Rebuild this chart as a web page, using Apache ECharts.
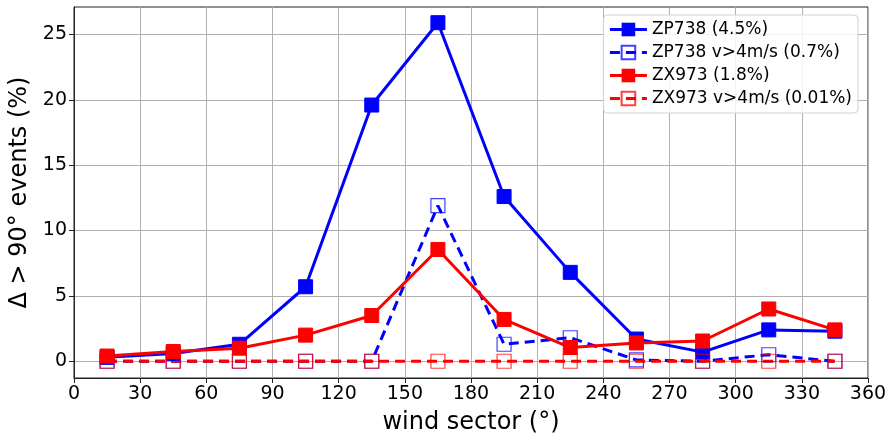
<!DOCTYPE html>
<html><head><meta charset="utf-8">
<script src="https://cdn.jsdelivr.net/npm/echarts@6/dist/echarts.min.js"></script>
<style>html,body{margin:0;padding:0;background:#fff}#c{width:890px;height:436px}</style>
</head><body><div id="c"></div>
<script>
const sectors = [15,45,75,105,135,165,195,225,255,285,315,345];
const zp738 = [0.3,0.6,1.3,5.7,19.6,25.9,12.6,6.8,1.7,0.7,2.4,2.3];
const zp738Fast = [0,0,0,0,0,11.9,1.3,1.8,0.1,0,0.5,0];
const zx973 = [0.4,0.75,1.0,2.0,3.5,8.55,3.2,1.05,1.4,1.55,4.0,2.4];
const zx973Fast = [0,0,0,0,0,0,0,0,0,0,0,0];
const names = ['ZP738 (4.5%)','ZP738 v>4m/s (0.7%)','ZX973 (1.8%)','ZX973 v>4m/s (0.01%)'];
const xTicks = [0,30,60,90,120,150,180,210,240,270,300,330,360];
const yTicks = [0,5,10,15,20,25];

const pair = arr => sectors.map((s,i)=>[s,arr[i]]);
const font = 'DejaVu Sans';
function solid(name, data, color){
  return {name, type:'line', data:pair(data), symbol:'rect', symbolSize:14,
    lineStyle:{color, width:3}, itemStyle:{color, borderColor:color}, emphasis:{disabled:true}};
}
function dashed(name, data, color){
  return {name, type:'line', data:pair(data), symbol:'rect', symbolSize:14,
    lineStyle:{color, width:3, type:[10,6]},
    itemStyle:{color:'rgba(255,255,255,0)', borderColor:color, borderWidth:1.2, opacity:0.75},
    emphasis:{disabled:true}};
}
const chart = echarts.init(document.getElementById('c'));
chart.setOption({
  animation:false,
  grid:{left:74, right:22, top:7, bottom:58, outerBoundsMode:'none', containLabel:false,
    show:true, borderColor:'#222', borderWidth:1, backgroundColor:'transparent'},
  legend:{right:32, top:15, orient:'vertical', itemWidth:37, itemHeight:17, itemGap:6,
    lineStyle:{width:3},
    backgroundColor:'rgba(255,255,255,0.85)', borderColor:'#d0d0d0', borderWidth:1, borderRadius:4,
    padding:[6,6,6,5], textStyle:{fontFamily:font, fontSize:17, color:'#000'}, data:names},
  xAxis:{type:'value', min:0, max:360, interval:30,
    name:'wind sector (°)', nameLocation:'middle', nameGap:33,
    nameTextStyle:{fontFamily:font, fontSize:24, color:'#000'},
    axisLine:{show:true, onZero:false, lineStyle:{color:'#222', width:1}},
    axisTick:{show:true, length:5, lineStyle:{color:'#222'}},
    axisLabel:{fontFamily:font, fontSize:19, color:'#000', margin:7, formatter:v=>xTicks.includes(v)?String(v):''},
    splitLine:{show:true, lineStyle:{color:'#b0b0b0', width:1}}},
  yAxis:{type:'value', min:-1.28, max:27.1,
    name:'Δ > 90° events (%)', nameLocation:'middle', nameGap:40,
    nameTextStyle:{fontFamily:font, fontSize:24, color:'#000'},
    axisLine:{show:true, onZero:false, lineStyle:{color:'#222', width:1}},
    axisTick:{show:true, length:5, lineStyle:{color:'#222'}, customValues:yTicks},
    axisLabel:{fontFamily:font, fontSize:19, color:'#000', margin:7, customValues:yTicks},
    splitLine:{show:true, lineStyle:{color:'#b0b0b0', width:1}}},
  series:[
    solid(names[0], zp738, '#0000ff'),
    dashed(names[1], zp738Fast, '#0000ff'),
    solid(names[2], zx973, '#ff0000'),
    dashed(names[3], zx973Fast, '#ff0000')
  ]
});
</script></body></html>
